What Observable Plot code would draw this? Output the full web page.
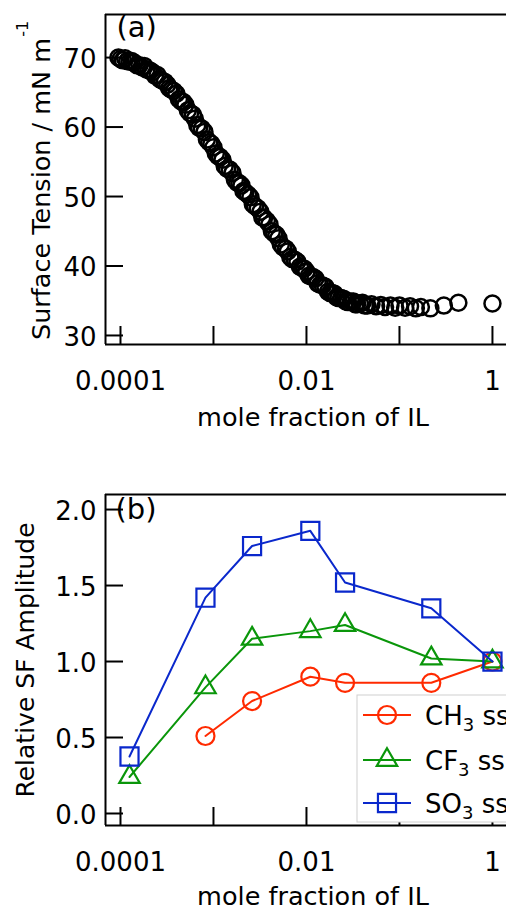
<!DOCTYPE html>
<html><head><meta charset="utf-8">
<script src="https://cdn.jsdelivr.net/npm/d3@7"></script>
<script src="https://cdn.jsdelivr.net/npm/@observablehq/plot@0.6"></script>
<style>body{margin:0;background:#fff;} svg{display:block}</style>
</head><body><div id="chart"></div>
<script>
// ---- Panel (a): surface tension vs mole fraction ----
const stX = [0.000095, 0.0001, 0.000106, 0.000112, 0.000118, 0.000125, 0.000132, 0.00014, 0.00015, 0.00016,
  0.00017, 0.00018, 0.00019, 0.0002, 0.00021, 0.00022, 0.000235, 0.00025, 0.000265, 0.00028,
  0.0003, 0.00032, 0.000335, 0.00035, 0.000375, 0.0004, 0.000425, 0.00045, 0.000475, 0.0005,
  0.00053, 0.00056, 0.0006, 0.00063, 0.00067, 0.0007, 0.00075, 0.0008, 0.00085, 0.0009,
  0.00095, 0.001, 0.00106, 0.00112, 0.00118, 0.00125, 0.00132, 0.0014, 0.0015, 0.0016,
  0.0017, 0.0018, 0.0019, 0.002, 0.0021, 0.0022, 0.00235, 0.0025, 0.00265, 0.0028,
  0.003, 0.0032, 0.00335, 0.0035, 0.00375, 0.004, 0.00425, 0.0045, 0.00475, 0.005,
  0.0053, 0.0056, 0.006, 0.0063, 0.0067, 0.007, 0.0075, 0.008, 0.0085, 0.009,
  0.0095, 0.01, 0.0106, 0.0112, 0.0118, 0.0125, 0.0132, 0.014, 0.015, 0.016,
  0.017, 0.018, 0.019, 0.02, 0.021, 0.022, 0.0235, 0.025, 0.0265, 0.028,
  0.03, 0.032, 0.0335, 0.035, 0.0375, 0.04, 0.0425, 0.045, 0.05, 0.056,
  0.063, 0.07, 0.08, 0.09, 0.1, 0.115, 0.13, 0.15, 0.17, 0.215,
  0.3, 0.43, 1.0];
const stY = [70.0, 69.8, 69.6, 69.9, 69.5, 69.4, 69.5, 69.3, 68.9, 68.9,
  68.6, 68.8, 68.3, 68.2, 68.1, 67.9, 67.4, 67.5, 66.9, 66.7,
  66.5, 66.1, 65.6, 65.4, 65.2, 64.8, 64.0, 63.7, 63.6, 63.2,
  62.4, 62.0, 61.8, 61.2, 60.3, 59.9, 59.8, 59.3, 58.2, 57.8,
  57.6, 57.1, 56.2, 55.8, 55.7, 55.3, 54.4, 54.0, 53.9, 53.4,
  52.4, 52.0, 51.9, 51.6, 50.8, 50.6, 50.3, 49.9, 48.9, 48.6,
  48.3, 47.8, 47.0, 46.9, 46.5, 46.0, 45.0, 44.7, 44.5, 44.0,
  43.1, 42.7, 42.5, 42.1, 41.3, 41.0, 40.9, 40.6, 39.9, 39.7,
  39.6, 39.2, 38.6, 38.5, 38.4, 38.2, 37.5, 37.3, 37.2, 37.0,
  36.3, 36.1, 36.1, 36.0, 35.5, 35.4, 35.4, 35.3, 34.9, 34.8,
  34.9, 34.9, 34.5, 34.5, 34.6, 34.7, 34.3, 34.3, 34.5, 34.2,
  34.4, 34.1, 34.3, 34.0, 34.3, 34.0, 34.2, 33.9, 34.1, 33.9,
  34.3, 34.7, 34.6];

// ---- Panel (b): relative SF amplitude ----
const sfX  = [0.000125, 0.00082, 0.0026, 0.011, 0.026, 0.22, 1];
const ch3X = [0.00082, 0.0026, 0.011, 0.026, 0.22, 1];
const ch3Y = [0.51, 0.74, 0.90, 0.86, 0.86, 1.0];
const cf3Y = [0.24, 0.83, 1.15, 1.20, 1.24, 1.02, 1.0];
const so3Y = [0.375, 1.42, 1.76, 1.86, 1.52, 1.35, 1.0];

// ---- ticks / labels ----
const xTicks = [0.0001, 0.001, 0.01, 0.1, 1];
const xLabelTicks = [0.0001, 0.01, 1];
const xTickLabels = ["0.0001", "0.01", "1"];
const stTicks = [30, 40, 50, 60, 70];
const sfTicks = [0, 0.5, 1, 1.5, 2];
const sfTickLabels = ["0.0", "0.5", "1.0", "1.5", "2.0"];
const seriesMain = ["CH", "CF", "SO"];
const seriesSub = ["3", "3", "3"];
const seriesTail = [" ss", " ss", " ss"];

const xDomain = [6.9e-5, 1.416];
const colors = ["#ff2a00", "#0a960a", "#0a28cc"];
const FONT = "DejaVu Sans";

function axes(yTicks, yFmt, yDomain) {
  return [
    Plot.ruleY([yDomain[1]], {strokeWidth: 2}),
    Plot.ruleY([yDomain[0]], {strokeWidth: 2}),
    Plot.ruleX([xDomain[0]], {strokeWidth: 2}),
    Plot.axisX(xTicks, {anchor: "bottom", label: null, tickSize: -18, strokeWidth: 2, tickFormat: () => ""}),
    Plot.axisX(xLabelTicks, {anchor: "bottom", label: null, tickSize: 0, tickPadding: 27, fontSize: 26,
      tickFormat: d => xTickLabels[xLabelTicks.indexOf(d)]}),
    Plot.axisY(yTicks, {anchor: "left", label: null, tickSize: -18, strokeWidth: 2, tickFormat: () => ""}),
    Plot.axisY(yTicks, {anchor: "left", label: null, tickSize: 0, tickPadding: 9, fontSize: 26, dy: 2, tickFormat: yFmt})
  ];
}

// Top panel
const stDomain = [28.7, 76.2];
const stData = stX.map((x, i) => ({x, y: stY[i]}));
const svgA = Plot.plot({
  width: 506, height: 470,
  marginTop: 14, marginRight: 0, marginBottom: 126, marginLeft: 105,
  style: {fontFamily: FONT, fontSize: "26px", background: "white", color: "black"},
  x: {type: "log", domain: xDomain, axis: null},
  y: {domain: stDomain, axis: null},
  marks: [
    ...axes(stTicks, d => String(d), stDomain),
    Plot.dot(stData, {x: "x", y: "y", r: 8, stroke: "black", strokeWidth: 2.5, fill: "none"}),
    Plot.text(["(a)"], {frameAnchor: "top-left", textAnchor: "start", lineAnchor: "top", dx: 11, dy: 2, fontSize: 29}),
    Plot.text(["mole fraction of IL"], {frameAnchor: "bottom", lineAnchor: "bottom", dx: 7, dy: 81, fontSize: 25.5})
  ]
});

// Bottom panel
const sfDomain = [-0.079, 2.099];
const ch3 = ch3X.map((x, i) => ({x, y: ch3Y[i]}));
const cf3 = sfX.map((x, i) => ({x, y: cf3Y[i]}));
const so3 = sfX.map((x, i) => ({x, y: so3Y[i]}));
const svgB = Plot.plot({
  width: 506, height: 436,
  marginTop: 24, marginRight: 0, marginBottom: 81, marginLeft: 105,
  style: {fontFamily: FONT, fontSize: "26px", background: "white", color: "black"},
  x: {type: "log", domain: xDomain, axis: null},
  y: {domain: sfDomain, axis: null},
  marks: [
    ...axes(sfTicks, d => sfTickLabels[sfTicks.indexOf(d)], sfDomain),
    Plot.line(ch3, {x: "x", y: "y", stroke: colors[0], strokeWidth: 2}),
    Plot.dot(ch3, {x: "x", y: "y", r: 9, symbol: "circle", stroke: colors[0], strokeWidth: 2.2, fill: "none"}),
    Plot.line(cf3, {x: "x", y: "y", stroke: colors[1], strokeWidth: 2}),
    Plot.dot(cf3, {x: "x", y: "y", r: 7.6, symbol: "triangle", stroke: colors[1], strokeWidth: 2.2, fill: "none"}),
    Plot.line(so3, {x: "x", y: "y", stroke: colors[2], strokeWidth: 2}),
    Plot.dot(so3, {x: "x", y: "y", r: 10.2, symbol: "square", stroke: colors[2], strokeWidth: 2.2, fill: "none"}),
    Plot.text(["(b)"], {frameAnchor: "top-left", textAnchor: "start", lineAnchor: "top", dx: 10, dy: 4, fontSize: 29}),
    Plot.text(["mole fraction of IL"], {frameAnchor: "bottom", lineAnchor: "bottom", dx: 7, dy: 79, fontSize: 25.5})
  ]
});

// y-axis titles
{
  const t = d3.select(svgA).append("text")
    .attr("transform", "translate(50,340) rotate(-90)")
    .attr("font-size", 25.5).attr("text-anchor", "start").attr("fill", "black");
  t.append("tspan").text("Surface Tension / mN m");
  t.append("tspan").attr("dx", 1).attr("dy", -22).attr("font-size", 16).text("-1");
}
{
  d3.select(svgB).append("text")
    .attr("transform", "translate(34,190) rotate(-90)")
    .attr("font-size", 25).attr("text-anchor", "middle").attr("fill", "black")
    .text("Relative SF Amplitude");
}

// legend (b)
{
  const g = d3.select(svgB).append("g");
  g.append("rect").attr("x", 357).attr("y", 225).attr("width", 160).attr("height", 127)
    .attr("fill", "white").attr("stroke", "#d0d0d0").attr("stroke-width", 1);
  const rowsY = [245, 290, 333];
  const syms = [d3.symbolCircle, d3.symbolTriangle, d3.symbolSquare];
  const rs = [9, 7.6, 10.2];
  rowsY.forEach((y, i) => {
    g.append("line").attr("x1", 363).attr("x2", 411).attr("y1", y).attr("y2", y)
      .attr("stroke", colors[i]).attr("stroke-width", 2);
    g.append("path").attr("d", d3.symbol(syms[i], Math.PI * rs[i] * rs[i])())
      .attr("transform", `translate(387,${y})`)
      .attr("fill", "none").attr("stroke", colors[i]).attr("stroke-width", 2.2);
    const t = g.append("text").attr("x", 425).attr("y", y + 10).attr("font-size", 26)
      .attr("text-anchor", "start").attr("fill", "black");
    t.append("tspan").text(seriesMain[i]);
    t.append("tspan").attr("dy", 6).attr("font-size", 18).text(seriesSub[i]);
    t.append("tspan").attr("dy", -6).text(seriesTail[i]);
  });
}

document.getElementById("chart").append(svgA, svgB);
</script>
</body></html>
